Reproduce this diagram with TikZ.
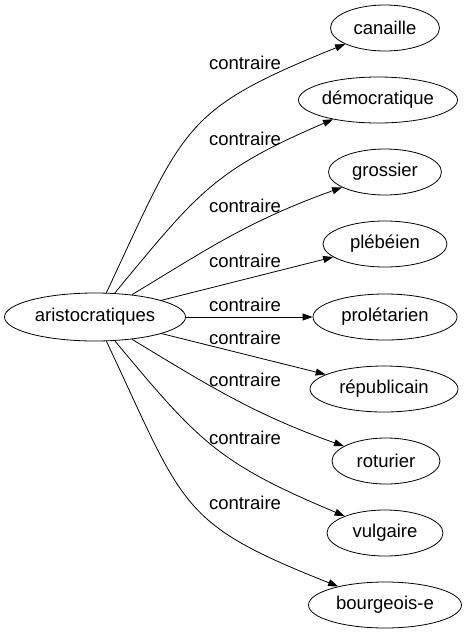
\documentclass[tikz,border=0pt]{standalone}
\usepackage{fontspec}
\setmainfont{Liberation Sans}
\usepackage{tikz}
\usetikzlibrary{arrows.meta,shapes.geometric}

\begin{document}
\begin{tikzpicture}[
    x=1pt, y=-1pt,
    font=\fontsize{18.5}{22}\selectfont,
    word/.style={draw, ellipse, line width=0.8pt, inner sep=0pt, minimum height=46pt},
    rel/.style={-{Triangle[length=10pt,width=7pt]}, line width=0.8pt},
    lbl/.style={inner sep=0pt}
]
\useasboundingbox (0,0) rectangle (476,635);

\node[word, minimum width=181pt, minimum height=48pt] (arist) at (95,317) {aristocratiques};

\node[word, minimum width=109pt] (can) at (385,28) {canaille};
\node[word, minimum width=159pt] (dem) at (378,100) {démocratique};
\node[word, minimum width=113pt] (gro) at (385,172) {grossier};
\node[word, minimum width=124pt] (ple) at (385,244) {plébéien};
\node[word, minimum width=144pt] (pro) at (385,317) {prolétarien};
\node[word, minimum width=148pt] (rep) at (384,389) {républicain};
\node[word, minimum width=108pt] (rot) at (386,461) {roturier};
\node[word, minimum width=116pt] (vul) at (385,533) {vulgaire};
\node[word, minimum width=153pt] (bou) at (385,605) {bourgeois-e};

\draw[rel] (arist) .. controls (185,125) and (182,110) .. (can);
\draw[rel] (arist) .. controls (199,191) and (215,170) .. (dem);
\draw[rel] (arist) .. controls (206,250) and (248,221) .. (gro);
\draw[rel] (arist) -- (ple);
\draw[rel] (arist) -- (pro);
\draw[rel] (arist) -- (rep);
\draw[rel] (arist) .. controls (206,384) and (253,414) .. (rot);
\draw[rel] (arist) .. controls (199,442) and (218,463) .. (vul);
\draw[rel] (arist) .. controls (185,508) and (178,523) .. (bou);

% edge labels
\node[lbl] (l1) at (245,63) {contraire};
\node[lbl] (l2) at (245,139) {contraire};
\node[lbl] (l3) at (245,206) {contraire};
\node[lbl] (l4) at (245,261) {contraire};
\node[lbl] (l5) at (245,305) {contraire};
\node[lbl] (l6) at (245,338) {contraire};
\node[lbl] (l7) at (245,380) {contraire};
\node[lbl] (l8) at (245,438) {contraire};
\node[lbl] (l9) at (245,503) {contraire};
\end{tikzpicture}
\end{document}
